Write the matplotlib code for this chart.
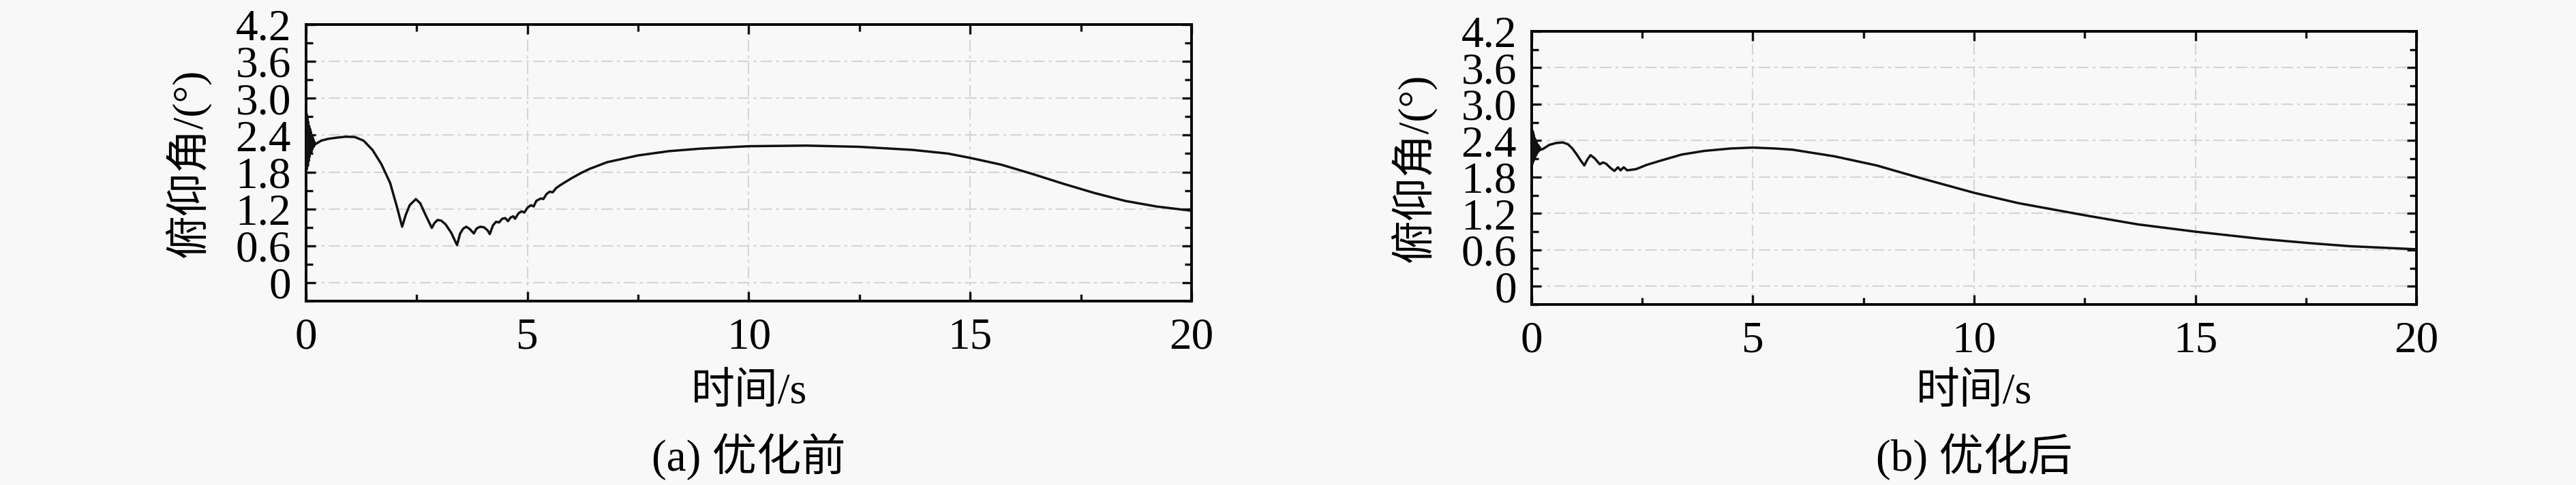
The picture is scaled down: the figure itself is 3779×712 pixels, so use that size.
"""Pitch-angle response before / after optimisation, two panels side by side."""
import matplotlib
matplotlib.use("Agg")
import matplotlib.pyplot as plt
from matplotlib.ticker import MultipleLocator

plt.rcParams['font.family'] = ['Liberation Serif', 'Noto Sans CJK SC']

BG = "#f8f8f8"; GRID = "#d4d4d4"; INK = "#111111"

# (a) before optimisation: time (s) / pitch angle (deg)
t_a = [0.00, 0.01, 0.02, 0.03, 0.04, 0.05, 0.06, 0.07, 0.08, 0.09, 0.10, 0.11, 0.12, 0.13,
       0.14, 0.15, 0.16, 0.17, 0.18, 0.19, 0.20,
       0.25, 0.34, 0.5, 0.7, 0.9, 1.1, 1.3, 1.5, 1.7, 1.9, 2.05, 2.17, 2.25, 2.34, 2.48, 2.58,
       2.7, 2.84, 2.9, 2.97, 3.05, 3.15, 3.28, 3.41, 3.48, 3.55, 3.62, 3.7, 3.79, 3.85, 3.93,
       4.02, 4.1, 4.15, 4.22, 4.29, 4.36, 4.43, 4.5, 4.56, 4.62, 4.68, 4.72, 4.8, 4.87, 4.93,
       5.0, 5.08, 5.14, 5.2, 5.3, 5.36, 5.43, 5.5, 5.57, 5.65, 5.75, 5.84, 6.0, 6.2, 6.4, 6.8,
       7.5, 8.2, 8.9, 10.0, 11.3, 12.5, 13.7, 14.5, 15.0, 15.7, 16.4, 17.1, 17.8, 18.5, 19.2, 20.0]
pitch_a = [2.30, 2.75, 1.85, 2.70, 1.90, 2.62, 1.98, 2.55, 2.05, 2.50, 2.10, 2.45, 2.13, 2.40,
           2.17, 2.36, 2.20, 2.32, 2.22, 2.29, 2.25,
           2.27, 2.31, 2.34, 2.36, 2.375, 2.37, 2.31, 2.16, 1.93, 1.62, 1.24, 0.91, 1.10, 1.26, 1.36, 1.29,
           1.10, 0.89, 0.97, 1.02, 1.01, 0.95, 0.81, 0.61, 0.80, 0.88, 0.91, 0.87, 0.80, 0.88, 0.91,
           0.90, 0.85, 0.79, 0.93, 0.99, 0.98, 1.04, 1.05, 1.00, 1.06, 1.08, 1.04, 1.13, 1.16, 1.14,
           1.22, 1.26, 1.24, 1.33, 1.37, 1.36, 1.44, 1.48, 1.47, 1.54, 1.59, 1.63, 1.70, 1.78, 1.85, 1.96,
           2.07, 2.14, 2.18, 2.22, 2.23, 2.21, 2.16, 2.10, 2.03, 1.92, 1.77, 1.61, 1.46, 1.33, 1.24, 1.17]

# (b) after optimisation
t_b = [0.00, 0.01, 0.02, 0.03, 0.04, 0.05, 0.06, 0.07, 0.08, 0.09, 0.10, 0.11, 0.12, 0.13,
       0.14, 0.15, 0.16, 0.17, 0.18, 0.19, 0.20,
       0.25, 0.4, 0.55, 0.7, 0.82, 0.92, 1.02, 1.1, 1.19, 1.26, 1.33, 1.42, 1.54, 1.61, 1.68,
       1.78, 1.87, 1.95, 2.01, 2.08, 2.16, 2.36, 2.6, 2.87, 3.39, 3.9, 4.5, 5.0, 5.5, 5.9, 6.85,
       7.8, 8.8, 10.0, 11.0, 12.5, 13.7, 15.0, 16.5, 17.6, 18.5, 20.0]
pitch_b = [2.25, 2.58, 2.02, 2.54, 2.06, 2.49, 2.10, 2.44, 2.13, 2.40, 2.16, 2.37, 2.19, 2.34,
           2.21, 2.32, 2.23, 2.30, 2.24, 2.28, 2.25,
           2.26, 2.33, 2.36, 2.37, 2.34, 2.27, 2.17, 2.08, 1.99, 2.09, 2.16, 2.11, 2.01, 2.04, 2.02,
           1.95, 1.90, 1.96, 1.91, 1.96, 1.91, 1.93, 2.00, 2.06, 2.17, 2.23, 2.27, 2.285, 2.27, 2.25, 2.14,
           1.99, 1.78, 1.54, 1.37, 1.17, 1.02, 0.90, 0.78, 0.71, 0.66, 0.61]

XTICKS = [0, 5, 10, 15, 20]
YTICKS = [0, 0.6, 1.2, 1.8, 2.4, 3.0, 3.6, 4.2]
YTICK_LABELS = ["0", "0.6", "1.2", "1.8", "2.4", "3.0", "3.6", "4.2"]
XLABEL = "时间/s"
YLABEL = "俯仰角/(°)"

W, H = 3780, 712
PANELS = [(t_a, pitch_a, "(a) 优化前", [449 / W, 1 - 442 / H, 1299 / W, 406 / H]),
          (t_b, pitch_b, "(b) 优化后", [2247 / W, 1 - 447 / H, 1298 / W, 401 / H])]

fig = plt.figure(figsize=(W / 100, H / 100), dpi=100, facecolor=BG)
for t, v, cap, rect in PANELS:
    ax = fig.add_axes(rect, facecolor=BG)
    ax.plot(t, v, color=INK, lw=2.5, zorder=3)
    ax.set_xlim(0, 20); ax.set_ylim(-0.3, 4.2)
    ax.set_xticks(XTICKS)
    ax.set_yticks(YTICKS); ax.set_yticklabels(YTICK_LABELS)
    ax.xaxis.set_minor_locator(MultipleLocator(2.5))
    ax.yaxis.set_minor_locator(MultipleLocator(0.3))
    ax.tick_params(which="both", direction="in", top=True, right=True, width=2.4,
                   labelsize=47, color=INK)
    ax.tick_params(which="major", length=10)
    ax.tick_params(which="minor", length=7)
    ax.tick_params(axis="x", pad=17); ax.tick_params(axis="y", pad=16)
    ax.grid(True, which="major", color=GRID, lw=1.5, ls=(0, (8, 3, 2, 3)), zorder=0)
    for s in ax.spines.values():
        s.set_linewidth(2.8)
    cx = rect[0] + rect[2] / 2
    fig.text(cx, 1 - 577 / H, XLABEL, ha="center", va="center", fontsize=46)
    fig.text(rect[0] - 173 / W, rect[1] + rect[3] / 2, YLABEL, rotation=90,
             ha="center", va="center", fontsize=46)
    fig.text(cx, 1 - 670 / H, cap, ha="center", va="center", fontsize=47)

fig.savefig("out.png", dpi=100, facecolor=BG)
